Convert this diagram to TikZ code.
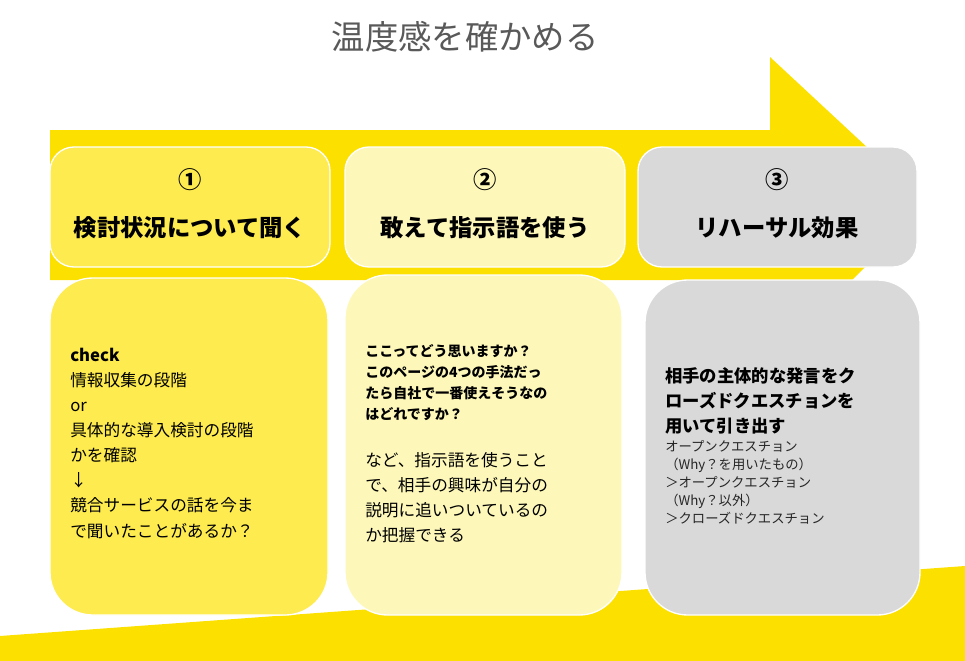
\documentclass[tikz,border=0pt]{standalone}
\usepackage{fontspec}
\setmainfont{Noto Sans CJK JP}
\definecolor{ylw}{HTML}{FCE100}
\definecolor{b1}{HTML}{FDEB4F}
\definecolor{b2}{HTML}{FDF8BA}
\definecolor{b3}{HTML}{D9D9D9}
\definecolor{ttl}{HTML}{595959}
\tikzset{
 box/.style={draw=white,line width=1pt,rounded corners=#1},
 body/.style={anchor=north west,align=left,inner sep=0pt,text=black},
 head/.style={font=\fontsize{17.5}{20}\selectfont\bfseries}
}
\begin{document}
\begin{tikzpicture}[x=0.75pt,y=-0.75pt]
\useasboundingbox (0,0) rectangle (965,661);
\fill[white] (0,0) rectangle (965,661);
% arrow
\fill[ylw] (50,130) -- (770,130) -- (770,57) -- (870,150) -- (870,262) -- (852,280) -- (50,280) -- cycle;
% bottom band
\fill[ylw] (0,636) -- (965,566) -- (965,661) -- (0,661) -- cycle;
\node[text=ttl,font=\fontsize{25}{28}\selectfont] (title) at (465,37) {温度感を確かめる};
% top boxes
\draw[box=18,fill=b1] (50,147) rectangle (330,267);
\draw[box=18,fill=b2] (345,147) rectangle (625,267);
\draw[box=18,fill=b3] (638,147) rectangle (917,267);
\node[head] (n1) at (190,180) {①};
\node[head] (n2) at (485,180) {②};
\node[head] (n3) at (777,180) {③};
\node[head] (h1) at (190,228) {検討状況について聞く};
\node[head] (h2) at (485,228) {敢えて指示語を使う};
\node[head] (h3) at (777,228) {リハーサル効果};
% bottom boxes
\draw[box=32,fill=b1] (50,278) rectangle (328,615);
\draw[box=32,fill=b2] (345,275) rectangle (622,615);
\draw[box=32,fill=b3] (645,280) rectangle (920,615);
\node[body,font=\fontsize{12.5}{18.8}\selectfont] (t1) at (70,348) {\textbf{check}\\情報収集の段階\\or\\具体的な導入検討の段階\\かを確認\\↓\\競合サービスの話を今ま\\で聞いたことがあるか？};
\node[body,font=\fontsize{10.5}{15.7}\selectfont\bfseries] (t2a) at (365,344) {ここってどう思いますか？\\このページの4つの手法だっ\\たら自社で一番使えそうなの\\はどれですか？};
\node[body,font=\fontsize{12.5}{18.8}\selectfont] (t2b) at (365,452) {など、指示語を使うこと\\で、相手の興味が自分の\\説明に追いついているの\\か把握できる};
\node[body,font=\fontsize{13}{18.8}\selectfont\bfseries] (t3a) at (665,367) {相手の主体的な発言をク\\ローズドクエスチョンを\\用いて引き出す};
\node[body,font=\fontsize{10}{13.5}\selectfont,text=black!85] (t3b) at (665,440) {オープンクエスチョン\\（Why？を用いたもの）\\＞オープンクエスチョン\\（Why？以外）\\＞クローズドクエスチョン};
\end{tikzpicture}
\end{document}
